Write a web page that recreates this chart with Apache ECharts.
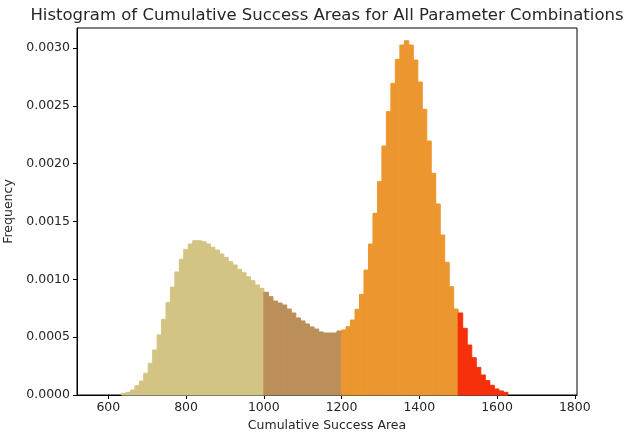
<!DOCTYPE html>
<html>
<head>
<meta charset="utf-8">
<script src="https://cdn.jsdelivr.net/npm/echarts@6/dist/echarts.min.js"></script>
<style>
  html, body { margin: 0; padding: 0; background: #fff; }
  #chart { width: 626px; height: 435px; }
</style>
</head>
<body>
<div id="chart"></div>
<script>
// bin heights (density) for each coloured range
const lowStart = 634;
const lowEnd = 1000;
const lowValues = [
  0.000015, 0.000023, 0.000043, 0.000080, 0.000121, 0.000188, 0.000274, 0.000389,
  0.000519, 0.000654, 0.000798, 0.000933, 0.001063, 0.001173, 0.001259, 0.001305,
  0.001334, 0.001334, 0.001325, 0.001305, 0.001277, 0.001253, 0.001219, 0.001190,
  0.001152, 0.001124, 0.001086, 0.001057, 0.001022, 0.000988, 0.000951, 0.000922
];
const midStart = 1000;
const midEnd = 1200;
const midValues = [
  0.000888, 0.000850, 0.000812, 0.000795, 0.000778, 0.000743, 0.000709, 0.000666,
  0.000640, 0.000614, 0.000588, 0.000570, 0.000545, 0.000536, 0.000536, 0.000536,
  0.000553
];
const highStart = 1200;
const highEnd = 1500;
const highValues = [
  0.000562, 0.000590, 0.000648, 0.000741, 0.000870, 0.001080, 0.001305, 0.001570,
  0.001844, 0.002152, 0.002449, 0.002694, 0.002901, 0.003025, 0.003062, 0.003025,
  0.002895, 0.002705, 0.002469, 0.002195, 0.001916, 0.001651, 0.001383, 0.001147,
  0.000936, 0.000743
];
const topStart = 1500;
const topEnd = 1628;
const topValues = [
  0.000709, 0.000576, 0.000432, 0.000322, 0.000239, 0.000173, 0.000124, 0.000084,
  0.000052, 0.000035, 0.000023
];
const baseRange = [634, 1628];

const xTicks = [600, 800, 1000, 1200, 1400, 1600, 1800];
const yTicks = [0, 0.0005, 0.001, 0.0015, 0.002, 0.0025, 0.003];

// turn a range + heights into [x0, x1, h] bins
function toBins(start, end, values) {
  const w = (end - start) / values.length;
  return values.map((v, i) => [start + i * w, start + (i + 1) * w, v]);
}

function renderBin(params, api) {
  const p0 = api.coord([api.value(0), api.value(2)]);
  const p1 = api.coord([api.value(1), 0]);
  const color = api.visual("color");
  return {
    type: "rect",
    shape: { x: p0[0], y: p0[1], width: p1[0] - p0[0], height: p1[1] - p0[1] },
    style: { fill: color, stroke: color, lineWidth: 1 },
  };
}

function histSeries(name, color, start, end, values) {
  return {
    name: name,
    type: "custom",
    renderItem: renderBin,
    itemStyle: { color: color },
    encode: { x: [0, 1], y: 2 },
    data: toBins(start, end, values),
    z: 2,
  };
}

const chart = echarts.init(document.getElementById("chart"));
const textColor = "#262626";
chart.setOption({
  animation: false,
  title: {
    text: "Histogram of Cumulative Success Areas for All Parameter Combinations",
    left: 322,
    textAlign: "center",
    top: 2,
    textStyle: { fontFamily: "DejaVu Sans", fontSize: 16.5, fontWeight: "normal", color: textColor },
  },
  grid: {
    left: 77, right: 49, top: 28, bottom: 40,
    outerBoundsMode: "none",
    containLabel: false,
    show: true, borderColor: "#000", borderWidth: 1, backgroundColor: "transparent",
  },
  xAxis: {
    type: "value",
    min: 519.4,
    max: 1805.7,
    name: "Cumulative Success Area",
    nameLocation: "middle",
    nameGap: 23,
    nameTextStyle: { fontFamily: "DejaVu Sans", fontSize: 12.5, color: textColor },
    splitLine: { show: false },
    axisLine: { onZero: false, lineStyle: { color: "#000" } },
    axisTick: { show: true, length: 4, lineStyle: { color: "#000" }, customValues: xTicks },
    axisLabel: {
      customValues: xTicks,
      margin: 6,
      formatter: (v) => String(v),
      fontFamily: "DejaVu Sans", fontSize: 12.5, color: textColor,
    },
  },
  yAxis: {
    type: "value",
    min: 0,
    max: 0.003172,
    name: "Frequency",
    nameLocation: "middle",
    nameGap: 60,
    nameTextStyle: { fontFamily: "DejaVu Sans", fontSize: 12.5, color: textColor },
    splitLine: { show: false },
    axisLine: { show: true, lineStyle: { color: "#000" } },
    axisTick: { show: true, length: 4, lineStyle: { color: "#000" }, customValues: yTicks },
    axisLabel: {
      customValues: yTicks,
      margin: 7,
      formatter: (v) => v.toFixed(4),
      fontFamily: "DejaVu Sans", fontSize: 12.5, color: textColor,
    },
  },
  series: [
    {
      name: "all",
      type: "line",
      data: [[baseRange[0], 0], [baseRange[1], 0]],
      symbol: "none",
      lineStyle: { color: "#1f77b4", width: 1.5 },
      z: 1,
    },
    histSeries("low", "#d3c483", lowStart, lowEnd, lowValues),
    histSeries("mid", "#bb8e5a", midStart, midEnd, midValues),
    histSeries("high", "#ec962f", highStart, highEnd, highValues),
    histSeries("top", "#f5300a", topStart, topEnd, topValues),
  ],
});
</script>
</body>
</html>
